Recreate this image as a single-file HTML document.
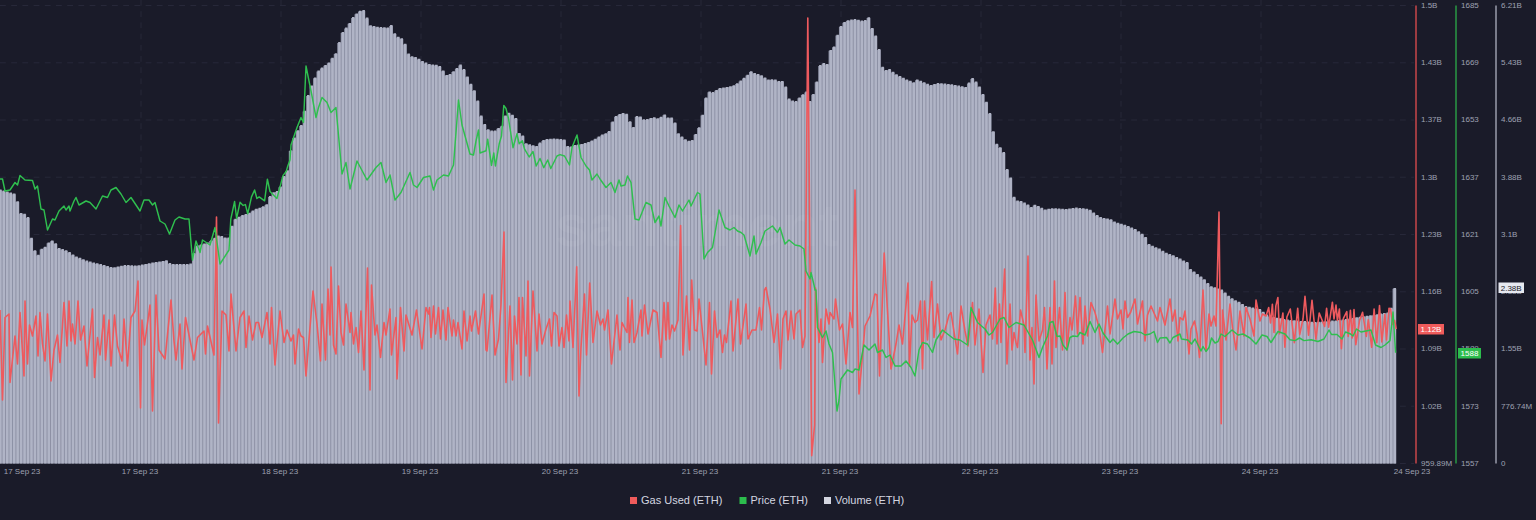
<!DOCTYPE html>
<html><head><meta charset="utf-8"><style>
html,body{margin:0;padding:0;background:#1a1b29;width:1536px;height:520px;overflow:hidden;font-family:"Liberation Sans",sans-serif;}
svg{display:block}
</style></head><body>
<svg width="1536" height="520" viewBox="0 0 1536 520" font-family="Liberation Sans, sans-serif"><rect x="0" y="0" width="1536" height="520" fill="#1a1b29"/>
<line x1="0" y1="5.5" x2="1414" y2="5.5" stroke="#2a2c3d" stroke-width="1" stroke-opacity="0.8" stroke-dasharray="5.8 5.4"/>
<line x1="0" y1="62.8" x2="1414" y2="62.8" stroke="#2a2c3d" stroke-width="1" stroke-opacity="0.8" stroke-dasharray="5.8 5.4"/>
<line x1="0" y1="120.0" x2="1414" y2="120.0" stroke="#2a2c3d" stroke-width="1" stroke-opacity="0.8" stroke-dasharray="5.8 5.4"/>
<line x1="0" y1="177.2" x2="1414" y2="177.2" stroke="#2a2c3d" stroke-width="1" stroke-opacity="0.8" stroke-dasharray="5.8 5.4"/>
<line x1="0" y1="234.5" x2="1414" y2="234.5" stroke="#2a2c3d" stroke-width="1" stroke-opacity="0.8" stroke-dasharray="5.8 5.4"/>
<line x1="0" y1="291.8" x2="1414" y2="291.8" stroke="#2a2c3d" stroke-width="1" stroke-opacity="0.8" stroke-dasharray="5.8 5.4"/>
<line x1="0" y1="349.0" x2="1414" y2="349.0" stroke="#2a2c3d" stroke-width="1" stroke-opacity="0.8" stroke-dasharray="5.8 5.4"/>
<line x1="0" y1="406.2" x2="1414" y2="406.2" stroke="#2a2c3d" stroke-width="1" stroke-opacity="0.8" stroke-dasharray="5.8 5.4"/>
<line x1="0" y1="463.5" x2="1414" y2="463.5" stroke="#2a2c3d" stroke-width="1" stroke-opacity="0.8" stroke-dasharray="5.8 5.4"/>
<line x1="141" y1="0" x2="141" y2="463.5" stroke="#2a2c3d" stroke-width="1" stroke-opacity="0.8" stroke-dasharray="5.8 5.4"/>
<line x1="281" y1="0" x2="281" y2="463.5" stroke="#2a2c3d" stroke-width="1" stroke-opacity="0.8" stroke-dasharray="5.8 5.4"/>
<line x1="421" y1="0" x2="421" y2="463.5" stroke="#2a2c3d" stroke-width="1" stroke-opacity="0.8" stroke-dasharray="5.8 5.4"/>
<line x1="561" y1="0" x2="561" y2="463.5" stroke="#2a2c3d" stroke-width="1" stroke-opacity="0.8" stroke-dasharray="5.8 5.4"/>
<line x1="701" y1="0" x2="701" y2="463.5" stroke="#2a2c3d" stroke-width="1" stroke-opacity="0.8" stroke-dasharray="5.8 5.4"/>
<line x1="841" y1="0" x2="841" y2="463.5" stroke="#2a2c3d" stroke-width="1" stroke-opacity="0.8" stroke-dasharray="5.8 5.4"/>
<line x1="981" y1="0" x2="981" y2="463.5" stroke="#2a2c3d" stroke-width="1" stroke-opacity="0.8" stroke-dasharray="5.8 5.4"/>
<line x1="1121" y1="0" x2="1121" y2="463.5" stroke="#2a2c3d" stroke-width="1" stroke-opacity="0.8" stroke-dasharray="5.8 5.4"/>
<line x1="1261" y1="0" x2="1261" y2="463.5" stroke="#2a2c3d" stroke-width="1" stroke-opacity="0.8" stroke-dasharray="5.8 5.4"/>
<path d="M-1.84 190.3H1.92V463.5H-1.84ZM1.62 191.3H5.38V463.5H1.62ZM5.08 192.3H8.84V463.5H5.08ZM8.54 193.2H12.30V463.5H8.54ZM12.00 194.2H15.76V463.5H12.00ZM15.46 202.1H19.22V463.5H15.46ZM18.92 213.7H22.68V463.5H18.92ZM22.38 214.6H26.14V463.5H22.38ZM25.84 217.9H29.60V463.5H25.84ZM29.30 238.5H33.06V463.5H29.30ZM32.76 251.0H36.52V463.5H32.76ZM36.22 255.6H39.98V463.5H36.22ZM39.68 249.6H43.44V463.5H39.68ZM43.14 247.5H46.90V463.5H43.14ZM46.60 243.3H50.36V463.5H46.60ZM50.06 241.2H53.82V463.5H50.06ZM53.52 244.1H57.28V463.5H53.52ZM56.98 248.7H60.74V463.5H56.98ZM60.44 249.9H64.20V463.5H60.44ZM63.90 251.1H67.66V463.5H63.90ZM67.36 252.9H71.12V463.5H67.36ZM70.82 255.2H74.58V463.5H70.82ZM74.28 257.2H78.04V463.5H74.28ZM77.74 258.6H81.50V463.5H77.74ZM81.20 260.0H84.96V463.5H81.20ZM84.66 261.4H88.42V463.5H84.66ZM88.12 262.4H91.88V463.5H88.12ZM91.58 263.2H95.34V463.5H91.58ZM95.04 264.0H98.80V463.5H95.04ZM98.50 264.9H102.26V463.5H98.50ZM101.96 265.8H105.72V463.5H101.96ZM105.42 266.8H109.18V463.5H105.42ZM108.88 267.8H112.64V463.5H108.88ZM112.34 268.0H116.10V463.5H112.34ZM115.80 267.3H119.56V463.5H115.80ZM119.26 266.6H123.02V463.5H119.26ZM122.72 265.9H126.48V463.5H122.72ZM126.18 265.9H129.94V463.5H126.18ZM129.64 266.1H133.40V463.5H129.64ZM133.10 266.2H136.86V463.5H133.10ZM136.56 266.1H140.32V463.5H136.56ZM140.02 265.4H143.78V463.5H140.02ZM143.48 264.8H147.24V463.5H143.48ZM146.94 264.1H150.70V463.5H146.94ZM150.40 263.4H154.16V463.5H150.40ZM153.86 262.8H157.62V463.5H153.86ZM157.32 262.2H161.08V463.5H157.32ZM160.78 261.7H164.54V463.5H160.78ZM164.24 261.1H168.00V463.5H164.24ZM167.70 263.9H171.46V463.5H167.70ZM171.16 264.8H174.92V463.5H171.16ZM174.62 264.8H178.38V463.5H174.62ZM178.08 264.8H181.84V463.5H178.08ZM181.54 264.8H185.30V463.5H181.54ZM185.00 264.8H188.76V463.5H185.00ZM188.46 264.4H192.22V463.5H188.46ZM191.92 253.8H195.68V463.5H191.92ZM195.38 246.2H199.14V463.5H195.38ZM198.84 245.2H202.60V463.5H198.84ZM202.30 244.3H206.06V463.5H202.30ZM205.76 243.3H209.52V463.5H205.76ZM209.22 241.0H212.98V463.5H209.22ZM212.68 238.6H216.44V463.5H212.68ZM216.14 236.2H219.90V463.5H216.14ZM219.60 236.7H223.36V463.5H219.60ZM223.06 238.3H226.82V463.5H223.06ZM226.52 238.3H230.28V463.5H226.52ZM229.98 226.5H233.74V463.5H229.98ZM233.44 219.6H237.20V463.5H233.44ZM236.90 217.6H240.66V463.5H236.90ZM240.36 215.9H244.12V463.5H240.36ZM243.82 214.7H247.58V463.5H243.82ZM247.28 213.6H251.04V463.5H247.28ZM250.74 211.4H254.50V463.5H250.74ZM254.20 209.5H257.96V463.5H254.20ZM257.66 208.6H261.42V463.5H257.66ZM261.12 207.1H264.88V463.5H261.12ZM264.58 205.1H268.34V463.5H264.58ZM268.04 196.9H271.80V463.5H268.04ZM271.50 193.1H275.26V463.5H271.50ZM274.96 191.9H278.72V463.5H274.96ZM278.42 187.2H282.18V463.5H278.42ZM281.88 176.8H285.64V463.5H281.88ZM285.34 171.1H289.10V463.5H285.34ZM288.80 151.0H292.56V463.5H288.80ZM292.26 138.3H296.02V463.5H292.26ZM295.72 131.1H299.48V463.5H295.72ZM299.18 125.9H302.94V463.5H299.18ZM302.64 111.6H306.40V463.5H302.64ZM306.10 95.9H309.86V463.5H306.10ZM309.56 86.3H313.32V463.5H309.56ZM313.02 78.3H316.78V463.5H313.02ZM316.48 71.4H320.24V463.5H316.48ZM319.94 68.4H323.70V463.5H319.94ZM323.40 65.8H327.16V463.5H323.40ZM326.86 63.2H330.62V463.5H326.86ZM330.32 58.6H334.08V463.5H330.32ZM333.78 54.0H337.54V463.5H333.78ZM337.24 42.9H341.00V463.5H337.24ZM340.70 32.9H344.46V463.5H340.70ZM344.16 28.4H347.92V463.5H344.16ZM347.62 23.8H351.38V463.5H347.62ZM351.08 17.9H354.84V463.5H351.08ZM354.54 14.2H358.30V463.5H354.54ZM358.00 11.6H361.76V463.5H358.00ZM361.46 10.9H365.22V463.5H361.46ZM364.92 18.4H368.68V463.5H364.92ZM368.38 26.1H372.14V463.5H368.38ZM371.84 26.8H375.60V463.5H371.84ZM375.30 27.5H379.06V463.5H375.30ZM378.76 27.9H382.52V463.5H378.76ZM382.22 28.1H385.98V463.5H382.22ZM385.68 28.2H389.44V463.5H385.68ZM389.14 25.9H392.90V463.5H389.14ZM392.60 34.1H396.36V463.5H392.60ZM396.06 37.6H399.82V463.5H396.06ZM399.52 39.1H403.28V463.5H399.52ZM402.98 44.5H406.74V463.5H402.98ZM406.44 54.3H410.20V463.5H406.44ZM409.90 57.0H413.66V463.5H409.90ZM413.36 57.8H417.12V463.5H413.36ZM416.82 59.6H420.58V463.5H416.82ZM420.28 61.7H424.04V463.5H420.28ZM423.74 63.4H427.50V463.5H423.74ZM427.20 64.8H430.96V463.5H427.20ZM430.66 65.2H434.42V463.5H430.66ZM434.12 65.5H437.88V463.5H434.12ZM437.58 66.8H441.34V463.5H437.58ZM441.04 71.3H444.80V463.5H441.04ZM444.50 75.8H448.26V463.5H444.50ZM447.96 74.7H451.72V463.5H447.96ZM451.42 72.1H455.18V463.5H451.42ZM454.88 68.7H458.64V463.5H454.88ZM458.34 65.4H462.10V463.5H458.34ZM461.80 69.9H465.56V463.5H461.80ZM465.26 77.2H469.02V463.5H465.26ZM468.72 84.6H472.48V463.5H468.72ZM472.18 91.0H475.94V463.5H472.18ZM475.64 101.3H479.40V463.5H475.64ZM479.10 116.4H482.86V463.5H479.10ZM482.56 124.7H486.32V463.5H482.56ZM486.02 130.0H489.78V463.5H486.02ZM489.48 131.4H493.24V463.5H489.48ZM492.94 131.2H496.70V463.5H492.94ZM496.40 128.8H500.16V463.5H496.40ZM499.86 126.5H503.62V463.5H499.86ZM503.32 116.3H507.08V463.5H503.32ZM506.78 113.5H510.54V463.5H506.78ZM510.24 115.5H514.00V463.5H510.24ZM513.70 118.8H517.46V463.5H513.70ZM517.16 133.7H520.92V463.5H517.16ZM520.62 136.3H524.38V463.5H520.62ZM524.08 144.1H527.84V463.5H524.08ZM527.54 145.0H531.30V463.5H527.54ZM531.00 146.1H534.76V463.5H531.00ZM534.46 146.7H538.22V463.5H534.46ZM537.92 143.4H541.68V463.5H537.92ZM541.38 140.9H545.14V463.5H541.38ZM544.84 139.7H548.60V463.5H544.84ZM548.30 139.5H552.06V463.5H548.30ZM551.76 139.3H555.52V463.5H551.76ZM555.22 139.6H558.98V463.5H555.22ZM558.68 139.8H562.44V463.5H558.68ZM562.14 140.2H565.90V463.5H562.14ZM565.60 146.8H569.36V463.5H565.60ZM569.06 147.2H572.82V463.5H569.06ZM572.52 145.9H576.28V463.5H572.52ZM575.98 145.3H579.74V463.5H575.98ZM579.44 144.8H583.20V463.5H579.44ZM582.90 143.9H586.66V463.5H582.90ZM586.36 142.8H590.12V463.5H586.36ZM589.82 141.2H593.58V463.5H589.82ZM593.28 139.5H597.04V463.5H593.28ZM596.74 137.4H600.50V463.5H596.74ZM600.20 135.4H603.96V463.5H600.20ZM603.66 134.0H607.42V463.5H603.66ZM607.12 131.7H610.88V463.5H607.12ZM610.58 122.3H614.34V463.5H610.58ZM614.04 116.8H617.80V463.5H614.04ZM617.50 114.9H621.26V463.5H617.50ZM620.96 113.8H624.72V463.5H620.96ZM624.42 114.5H628.18V463.5H624.42ZM627.88 122.0H631.64V463.5H627.88ZM631.34 127.8H635.10V463.5H631.34ZM634.80 116.9H638.56V463.5H634.80ZM638.26 117.3H642.02V463.5H638.26ZM641.72 120.0H645.48V463.5H641.72ZM645.18 119.9H648.94V463.5H645.18ZM648.64 118.7H652.40V463.5H648.64ZM652.10 118.1H655.86V463.5H652.10ZM655.56 119.1H659.32V463.5H655.56ZM659.02 117.5H662.78V463.5H659.02ZM662.48 115.3H666.24V463.5H662.48ZM665.94 118.3H669.70V463.5H665.94ZM669.40 118.3H673.16V463.5H669.40ZM672.86 123.2H676.62V463.5H672.86ZM676.32 134.0H680.08V463.5H676.32ZM679.78 137.2H683.54V463.5H679.78ZM683.24 140.1H687.00V463.5H683.24ZM686.70 141.5H690.46V463.5H686.70ZM690.16 140.8H693.92V463.5H690.16ZM693.62 134.7H697.38V463.5H693.62ZM697.08 128.0H700.84V463.5H697.08ZM700.54 115.5H704.30V463.5H700.54ZM704.00 98.3H707.76V463.5H704.00ZM707.46 92.2H711.22V463.5H707.46ZM710.92 92.9H714.68V463.5H710.92ZM714.38 90.8H718.14V463.5H714.38ZM717.84 88.8H721.60V463.5H717.84ZM721.30 88.2H725.06V463.5H721.30ZM724.76 87.7H728.52V463.5H724.76ZM728.22 87.1H731.98V463.5H728.22ZM731.68 86.0H735.44V463.5H731.68ZM735.14 84.0H738.90V463.5H735.14ZM738.60 81.4H742.36V463.5H738.60ZM742.06 78.5H745.82V463.5H742.06ZM745.52 75.5H749.28V463.5H745.52ZM748.98 72.1H752.74V463.5H748.98ZM752.44 73.7H756.20V463.5H752.44ZM755.90 74.8H759.66V463.5H755.90ZM759.36 76.1H763.12V463.5H759.36ZM762.82 78.3H766.58V463.5H762.82ZM766.28 80.3H770.04V463.5H766.28ZM769.74 80.0H773.50V463.5H769.74ZM773.20 80.4H776.96V463.5H773.20ZM776.66 81.8H780.42V463.5H776.66ZM780.12 81.8H783.88V463.5H780.12ZM783.58 87.2H787.34V463.5H783.58ZM787.04 99.4H790.80V463.5H787.04ZM790.50 101.3H794.26V463.5H790.50ZM793.96 101.9H797.72V463.5H793.96ZM797.42 98.2H801.18V463.5H797.42ZM800.88 95.1H804.64V463.5H800.88ZM804.34 92.4H808.10V463.5H804.34ZM807.80 101.7H811.56V463.5H807.80ZM811.26 94.8H815.02V463.5H811.26ZM814.72 82.3H818.48V463.5H814.72ZM818.18 65.9H821.94V463.5H818.18ZM821.64 63.7H825.40V463.5H821.64ZM825.10 64.7H828.86V463.5H825.10ZM828.56 50.7H832.32V463.5H828.56ZM832.02 47.2H835.78V463.5H832.02ZM835.48 35.5H839.24V463.5H835.48ZM838.94 26.8H842.70V463.5H838.94ZM842.40 22.7H846.16V463.5H842.40ZM845.86 21.0H849.62V463.5H845.86ZM849.32 20.4H853.08V463.5H849.32ZM852.78 19.9H856.54V463.5H852.78ZM856.24 20.5H860.00V463.5H856.24ZM859.70 21.4H863.46V463.5H859.70ZM863.16 20.9H866.92V463.5H863.16ZM866.62 18.1H870.38V463.5H866.62ZM870.08 28.7H873.84V463.5H870.08ZM873.54 36.3H877.30V463.5H873.54ZM877.00 49.9H880.76V463.5H877.00ZM880.46 67.5H884.22V463.5H880.46ZM883.92 70.8H887.68V463.5H883.92ZM887.38 69.9H891.14V463.5H887.38ZM890.84 72.5H894.60V463.5H890.84ZM894.30 75.1H898.06V463.5H894.30ZM897.76 76.8H901.52V463.5H897.76ZM901.22 78.5H904.98V463.5H901.22ZM904.68 80.2H908.44V463.5H904.68ZM908.14 81.6H911.90V463.5H908.14ZM911.60 83.0H915.36V463.5H911.60ZM915.06 80.2H918.82V463.5H915.06ZM918.52 81.5H922.28V463.5H918.52ZM921.98 83.1H925.74V463.5H921.98ZM925.44 84.5H929.20V463.5H925.44ZM928.90 85.8H932.66V463.5H928.90ZM932.36 84.8H936.12V463.5H932.36ZM935.82 83.9H939.58V463.5H935.82ZM939.28 84.1H943.04V463.5H939.28ZM942.74 84.4H946.50V463.5H942.74ZM946.20 84.8H949.96V463.5H946.20ZM949.66 85.1H953.42V463.5H949.66ZM953.12 85.7H956.88V463.5H953.12ZM956.58 86.4H960.34V463.5H956.58ZM960.04 87.1H963.80V463.5H960.04ZM963.50 87.7H967.26V463.5H963.50ZM966.96 83.4H970.72V463.5H966.96ZM970.42 78.9H974.18V463.5H970.42ZM973.88 82.4H977.64V463.5H973.88ZM977.34 87.2H981.10V463.5H977.34ZM980.80 94.8H984.56V463.5H980.80ZM984.26 102.5H988.02V463.5H984.26ZM987.72 113.9H991.48V463.5H987.72ZM991.18 132.0H994.94V463.5H991.18ZM994.64 144.5H998.40V463.5H994.64ZM998.10 148.1H1001.86V463.5H998.10ZM1001.56 152.9H1005.32V463.5H1001.56ZM1005.02 169.9H1008.78V463.5H1005.02ZM1008.48 178.3H1012.24V463.5H1008.48ZM1011.94 197.6H1015.70V463.5H1011.94ZM1015.40 201.2H1019.16V463.5H1015.40ZM1018.86 201.7H1022.62V463.5H1018.86ZM1022.32 203.4H1026.08V463.5H1022.32ZM1025.78 205.3H1029.54V463.5H1025.78ZM1029.24 207.7H1033.00V463.5H1029.24ZM1032.70 205.6H1036.46V463.5H1032.70ZM1036.16 206.7H1039.92V463.5H1036.16ZM1039.62 208.5H1043.38V463.5H1039.62ZM1043.08 210.2H1046.84V463.5H1043.08ZM1046.54 209.6H1050.30V463.5H1046.54ZM1050.00 209.0H1053.76V463.5H1050.00ZM1053.46 209.0H1057.22V463.5H1053.46ZM1056.92 209.3H1060.68V463.5H1056.92ZM1060.38 209.6H1064.14V463.5H1060.38ZM1063.84 209.7H1067.60V463.5H1063.84ZM1067.30 209.2H1071.06V463.5H1067.30ZM1070.76 208.7H1074.52V463.5H1070.76ZM1074.22 208.4H1077.98V463.5H1074.22ZM1077.68 208.8H1081.44V463.5H1077.68ZM1081.14 209.1H1084.90V463.5H1081.14ZM1084.60 209.5H1088.36V463.5H1084.60ZM1088.06 210.5H1091.82V463.5H1088.06ZM1091.52 213.3H1095.28V463.5H1091.52ZM1094.98 215.8H1098.74V463.5H1094.98ZM1098.44 217.8H1102.20V463.5H1098.44ZM1101.90 218.7H1105.66V463.5H1101.90ZM1105.36 219.3H1109.12V463.5H1105.36ZM1108.82 220.1H1112.58V463.5H1108.82ZM1112.28 222.2H1116.04V463.5H1112.28ZM1115.74 223.5H1119.50V463.5H1115.74ZM1119.20 224.6H1122.96V463.5H1119.20ZM1122.66 225.6H1126.42V463.5H1122.66ZM1126.12 226.9H1129.88V463.5H1126.12ZM1129.58 228.3H1133.34V463.5H1129.58ZM1133.04 229.7H1136.80V463.5H1133.04ZM1136.50 232.1H1140.26V463.5H1136.50ZM1139.96 234.5H1143.72V463.5H1139.96ZM1143.42 237.8H1147.18V463.5H1143.42ZM1146.88 244.7H1150.64V463.5H1146.88ZM1150.34 246.6H1154.10V463.5H1150.34ZM1153.80 248.0H1157.56V463.5H1153.80ZM1157.26 249.4H1161.02V463.5H1157.26ZM1160.72 251.5H1164.48V463.5H1160.72ZM1164.18 253.6H1167.94V463.5H1164.18ZM1167.64 254.8H1171.40V463.5H1167.64ZM1171.10 256.0H1174.86V463.5H1171.10ZM1174.56 257.7H1178.32V463.5H1174.56ZM1178.02 259.4H1181.78V463.5H1178.02ZM1181.48 261.2H1185.24V463.5H1181.48ZM1184.94 262.9H1188.70V463.5H1184.94ZM1188.40 269.9H1192.16V463.5H1188.40ZM1191.86 272.3H1195.62V463.5H1191.86ZM1195.32 274.7H1199.08V463.5H1195.32ZM1198.78 277.2H1202.54V463.5H1198.78ZM1202.24 280.0H1206.00V463.5H1202.24ZM1205.70 283.7H1209.46V463.5H1205.70ZM1209.16 287.1H1212.92V463.5H1209.16ZM1212.62 288.1H1216.38V463.5H1212.62ZM1216.08 289.2H1219.84V463.5H1216.08ZM1219.54 290.4H1223.30V463.5H1219.54ZM1223.00 293.3H1226.76V463.5H1223.00ZM1226.46 296.5H1230.22V463.5H1226.46ZM1229.92 299.1H1233.68V463.5H1229.92ZM1233.38 301.0H1237.14V463.5H1233.38ZM1236.84 302.6H1240.60V463.5H1236.84ZM1240.30 304.7H1244.06V463.5H1240.30ZM1243.76 306.9H1247.52V463.5H1243.76ZM1247.22 307.6H1250.98V463.5H1247.22ZM1250.68 308.3H1254.44V463.5H1250.68ZM1254.14 309.0H1257.90V463.5H1254.14ZM1257.60 309.7H1261.36V463.5H1257.60ZM1261.06 312.6H1264.82V463.5H1261.06ZM1264.52 315.2H1268.28V463.5H1264.52ZM1267.98 316.4H1271.74V463.5H1267.98ZM1271.44 317.7H1275.20V463.5H1271.44ZM1274.90 318.6H1278.66V463.5H1274.90ZM1278.36 319.1H1282.12V463.5H1278.36ZM1281.82 319.7H1285.58V463.5H1281.82ZM1285.28 320.3H1289.04V463.5H1285.28ZM1288.74 320.8H1292.50V463.5H1288.74ZM1292.20 321.1H1295.96V463.5H1292.20ZM1295.66 321.4H1299.42V463.5H1295.66ZM1299.12 321.7H1302.88V463.5H1299.12ZM1302.58 321.9H1306.34V463.5H1302.58ZM1306.04 322.2H1309.80V463.5H1306.04ZM1309.50 322.5H1313.26V463.5H1309.50ZM1312.96 322.8H1316.72V463.5H1312.96ZM1316.42 322.5H1320.18V463.5H1316.42ZM1319.88 322.3H1323.64V463.5H1319.88ZM1323.34 322.0H1327.10V463.5H1323.34ZM1326.80 321.7H1330.56V463.5H1326.80ZM1330.26 321.4H1334.02V463.5H1330.26ZM1333.72 321.2H1337.48V463.5H1333.72ZM1337.18 320.9H1340.94V463.5H1337.18ZM1340.64 320.4H1344.40V463.5H1340.64ZM1344.10 319.8H1347.86V463.5H1344.10ZM1347.56 319.3H1351.32V463.5H1347.56ZM1351.02 318.7H1354.78V463.5H1351.02ZM1354.48 318.1H1358.24V463.5H1354.48ZM1357.94 317.6H1361.70V463.5H1357.94ZM1361.40 317.1H1365.16V463.5H1361.40ZM1364.86 316.6H1368.62V463.5H1364.86ZM1368.32 316.0H1372.08V463.5H1368.32ZM1371.78 315.5H1375.54V463.5H1371.78ZM1375.24 315.0H1379.00V463.5H1375.24ZM1378.70 314.4H1382.46V463.5H1378.70ZM1382.16 313.9H1385.92V463.5H1382.16ZM1385.62 313.3H1389.38V463.5H1385.62ZM1389.08 308.6H1392.84V463.5H1389.08ZM1392.54 288.8H1396.30V463.5H1392.54Z" fill="#8a8ea2"/>
<path d="M-0.94 189.5H1.62V463.5H-0.94ZM2.52 190.5H5.08V463.5H2.52ZM5.98 191.5H8.54V463.5H5.98ZM9.44 192.4H12.00V463.5H9.44ZM12.90 193.4H15.46V463.5H12.90ZM16.36 201.3H18.92V463.5H16.36ZM19.82 212.9H22.38V463.5H19.82ZM23.28 213.8H25.84V463.5H23.28ZM26.74 217.1H29.30V463.5H26.74ZM30.20 237.7H32.76V463.5H30.20ZM33.66 250.2H36.22V463.5H33.66ZM37.12 254.8H39.68V463.5H37.12ZM40.58 248.8H43.14V463.5H40.58ZM44.04 246.7H46.60V463.5H44.04ZM47.50 242.5H50.06V463.5H47.50ZM50.96 240.4H53.52V463.5H50.96ZM54.42 243.3H56.98V463.5H54.42ZM57.88 247.9H60.44V463.5H57.88ZM61.34 249.1H63.90V463.5H61.34ZM64.80 250.3H67.36V463.5H64.80ZM68.26 252.1H70.82V463.5H68.26ZM71.72 254.4H74.28V463.5H71.72ZM75.18 256.4H77.74V463.5H75.18ZM78.64 257.8H81.20V463.5H78.64ZM82.10 259.2H84.66V463.5H82.10ZM85.56 260.6H88.12V463.5H85.56ZM89.02 261.6H91.58V463.5H89.02ZM92.48 262.4H95.04V463.5H92.48ZM95.94 263.2H98.50V463.5H95.94ZM99.40 264.1H101.96V463.5H99.40ZM102.86 265.0H105.42V463.5H102.86ZM106.32 266.0H108.88V463.5H106.32ZM109.78 267.0H112.34V463.5H109.78ZM113.24 267.2H115.80V463.5H113.24ZM116.70 266.5H119.26V463.5H116.70ZM120.16 265.8H122.72V463.5H120.16ZM123.62 265.1H126.18V463.5H123.62ZM127.08 265.1H129.64V463.5H127.08ZM130.54 265.3H133.10V463.5H130.54ZM134.00 265.4H136.56V463.5H134.00ZM137.46 265.3H140.02V463.5H137.46ZM140.92 264.6H143.48V463.5H140.92ZM144.38 264.0H146.94V463.5H144.38ZM147.84 263.3H150.40V463.5H147.84ZM151.30 262.6H153.86V463.5H151.30ZM154.76 262.0H157.32V463.5H154.76ZM158.22 261.4H160.78V463.5H158.22ZM161.68 260.9H164.24V463.5H161.68ZM165.14 260.3H167.70V463.5H165.14ZM168.60 263.1H171.16V463.5H168.60ZM172.06 264.0H174.62V463.5H172.06ZM175.52 264.0H178.08V463.5H175.52ZM178.98 264.0H181.54V463.5H178.98ZM182.44 264.0H185.00V463.5H182.44ZM185.90 264.0H188.46V463.5H185.90ZM189.36 263.6H191.92V463.5H189.36ZM192.82 253.0H195.38V463.5H192.82ZM196.28 245.4H198.84V463.5H196.28ZM199.74 244.4H202.30V463.5H199.74ZM203.20 243.5H205.76V463.5H203.20ZM206.66 242.5H209.22V463.5H206.66ZM210.12 240.2H212.68V463.5H210.12ZM213.58 237.8H216.14V463.5H213.58ZM217.04 235.4H219.60V463.5H217.04ZM220.50 235.9H223.06V463.5H220.50ZM223.96 237.5H226.52V463.5H223.96ZM227.42 237.5H229.98V463.5H227.42ZM230.88 225.7H233.44V463.5H230.88ZM234.34 218.8H236.90V463.5H234.34ZM237.80 216.8H240.36V463.5H237.80ZM241.26 215.1H243.82V463.5H241.26ZM244.72 213.9H247.28V463.5H244.72ZM248.18 212.8H250.74V463.5H248.18ZM251.64 210.6H254.20V463.5H251.64ZM255.10 208.7H257.66V463.5H255.10ZM258.56 207.8H261.12V463.5H258.56ZM262.02 206.3H264.58V463.5H262.02ZM265.48 204.3H268.04V463.5H265.48ZM268.94 196.1H271.50V463.5H268.94ZM272.40 192.3H274.96V463.5H272.40ZM275.86 191.1H278.42V463.5H275.86ZM279.32 186.4H281.88V463.5H279.32ZM282.78 176.0H285.34V463.5H282.78ZM286.24 170.3H288.80V463.5H286.24ZM289.70 150.2H292.26V463.5H289.70ZM293.16 137.5H295.72V463.5H293.16ZM296.62 130.3H299.18V463.5H296.62ZM300.08 125.1H302.64V463.5H300.08ZM303.54 110.8H306.10V463.5H303.54ZM307.00 95.1H309.56V463.5H307.00ZM310.46 85.5H313.02V463.5H310.46ZM313.92 77.5H316.48V463.5H313.92ZM317.38 70.6H319.94V463.5H317.38ZM320.84 67.6H323.40V463.5H320.84ZM324.30 65.0H326.86V463.5H324.30ZM327.76 62.4H330.32V463.5H327.76ZM331.22 57.8H333.78V463.5H331.22ZM334.68 53.2H337.24V463.5H334.68ZM338.14 42.1H340.70V463.5H338.14ZM341.60 32.1H344.16V463.5H341.60ZM345.06 27.6H347.62V463.5H345.06ZM348.52 23.0H351.08V463.5H348.52ZM351.98 17.1H354.54V463.5H351.98ZM355.44 13.4H358.00V463.5H355.44ZM358.90 10.8H361.46V463.5H358.90ZM362.36 10.1H364.92V463.5H362.36ZM365.82 17.6H368.38V463.5H365.82ZM369.28 25.3H371.84V463.5H369.28ZM372.74 26.0H375.30V463.5H372.74ZM376.20 26.7H378.76V463.5H376.20ZM379.66 27.1H382.22V463.5H379.66ZM383.12 27.3H385.68V463.5H383.12ZM386.58 27.4H389.14V463.5H386.58ZM390.04 25.1H392.60V463.5H390.04ZM393.50 33.3H396.06V463.5H393.50ZM396.96 36.8H399.52V463.5H396.96ZM400.42 38.3H402.98V463.5H400.42ZM403.88 43.7H406.44V463.5H403.88ZM407.34 53.5H409.90V463.5H407.34ZM410.80 56.2H413.36V463.5H410.80ZM414.26 57.0H416.82V463.5H414.26ZM417.72 58.8H420.28V463.5H417.72ZM421.18 60.9H423.74V463.5H421.18ZM424.64 62.6H427.20V463.5H424.64ZM428.10 64.0H430.66V463.5H428.10ZM431.56 64.4H434.12V463.5H431.56ZM435.02 64.7H437.58V463.5H435.02ZM438.48 66.0H441.04V463.5H438.48ZM441.94 70.5H444.50V463.5H441.94ZM445.40 75.0H447.96V463.5H445.40ZM448.86 73.9H451.42V463.5H448.86ZM452.32 71.3H454.88V463.5H452.32ZM455.78 67.9H458.34V463.5H455.78ZM459.24 64.6H461.80V463.5H459.24ZM462.70 69.1H465.26V463.5H462.70ZM466.16 76.4H468.72V463.5H466.16ZM469.62 83.8H472.18V463.5H469.62ZM473.08 90.2H475.64V463.5H473.08ZM476.54 100.5H479.10V463.5H476.54ZM480.00 115.6H482.56V463.5H480.00ZM483.46 123.9H486.02V463.5H483.46ZM486.92 129.2H489.48V463.5H486.92ZM490.38 130.6H492.94V463.5H490.38ZM493.84 130.4H496.40V463.5H493.84ZM497.30 128.0H499.86V463.5H497.30ZM500.76 125.7H503.32V463.5H500.76ZM504.22 115.5H506.78V463.5H504.22ZM507.68 112.7H510.24V463.5H507.68ZM511.14 114.7H513.70V463.5H511.14ZM514.60 118.0H517.16V463.5H514.60ZM518.06 132.9H520.62V463.5H518.06ZM521.52 135.5H524.08V463.5H521.52ZM524.98 143.3H527.54V463.5H524.98ZM528.44 144.2H531.00V463.5H528.44ZM531.90 145.3H534.46V463.5H531.90ZM535.36 145.9H537.92V463.5H535.36ZM538.82 142.6H541.38V463.5H538.82ZM542.28 140.1H544.84V463.5H542.28ZM545.74 138.9H548.30V463.5H545.74ZM549.20 138.7H551.76V463.5H549.20ZM552.66 138.5H555.22V463.5H552.66ZM556.12 138.8H558.68V463.5H556.12ZM559.58 139.0H562.14V463.5H559.58ZM563.04 139.4H565.60V463.5H563.04ZM566.50 146.0H569.06V463.5H566.50ZM569.96 146.4H572.52V463.5H569.96ZM573.42 145.1H575.98V463.5H573.42ZM576.88 144.5H579.44V463.5H576.88ZM580.34 144.0H582.90V463.5H580.34ZM583.80 143.1H586.36V463.5H583.80ZM587.26 142.0H589.82V463.5H587.26ZM590.72 140.4H593.28V463.5H590.72ZM594.18 138.7H596.74V463.5H594.18ZM597.64 136.6H600.20V463.5H597.64ZM601.10 134.6H603.66V463.5H601.10ZM604.56 133.2H607.12V463.5H604.56ZM608.02 130.9H610.58V463.5H608.02ZM611.48 121.5H614.04V463.5H611.48ZM614.94 116.0H617.50V463.5H614.94ZM618.40 114.1H620.96V463.5H618.40ZM621.86 113.0H624.42V463.5H621.86ZM625.32 113.7H627.88V463.5H625.32ZM628.78 121.2H631.34V463.5H628.78ZM632.24 127.0H634.80V463.5H632.24ZM635.70 116.1H638.26V463.5H635.70ZM639.16 116.5H641.72V463.5H639.16ZM642.62 119.2H645.18V463.5H642.62ZM646.08 119.1H648.64V463.5H646.08ZM649.54 117.9H652.10V463.5H649.54ZM653.00 117.3H655.56V463.5H653.00ZM656.46 118.3H659.02V463.5H656.46ZM659.92 116.7H662.48V463.5H659.92ZM663.38 114.5H665.94V463.5H663.38ZM666.84 117.5H669.40V463.5H666.84ZM670.30 117.5H672.86V463.5H670.30ZM673.76 122.4H676.32V463.5H673.76ZM677.22 133.2H679.78V463.5H677.22ZM680.68 136.4H683.24V463.5H680.68ZM684.14 139.3H686.70V463.5H684.14ZM687.60 140.7H690.16V463.5H687.60ZM691.06 140.0H693.62V463.5H691.06ZM694.52 133.9H697.08V463.5H694.52ZM697.98 127.2H700.54V463.5H697.98ZM701.44 114.7H704.00V463.5H701.44ZM704.90 97.5H707.46V463.5H704.90ZM708.36 91.4H710.92V463.5H708.36ZM711.82 92.1H714.38V463.5H711.82ZM715.28 90.0H717.84V463.5H715.28ZM718.74 88.0H721.30V463.5H718.74ZM722.20 87.4H724.76V463.5H722.20ZM725.66 86.9H728.22V463.5H725.66ZM729.12 86.3H731.68V463.5H729.12ZM732.58 85.2H735.14V463.5H732.58ZM736.04 83.2H738.60V463.5H736.04ZM739.50 80.6H742.06V463.5H739.50ZM742.96 77.7H745.52V463.5H742.96ZM746.42 74.8H748.98V463.5H746.42ZM749.88 71.3H752.44V463.5H749.88ZM753.34 72.9H755.90V463.5H753.34ZM756.80 74.0H759.36V463.5H756.80ZM760.26 75.3H762.82V463.5H760.26ZM763.72 77.5H766.28V463.5H763.72ZM767.18 79.5H769.74V463.5H767.18ZM770.64 79.2H773.20V463.5H770.64ZM774.10 79.6H776.66V463.5H774.10ZM777.56 81.0H780.12V463.5H777.56ZM781.02 81.0H783.58V463.5H781.02ZM784.48 86.4H787.04V463.5H784.48ZM787.94 98.6H790.50V463.5H787.94ZM791.40 100.5H793.96V463.5H791.40ZM794.86 101.1H797.42V463.5H794.86ZM798.32 97.4H800.88V463.5H798.32ZM801.78 94.3H804.34V463.5H801.78ZM805.24 91.6H807.80V463.5H805.24ZM808.70 100.9H811.26V463.5H808.70ZM812.16 94.0H814.72V463.5H812.16ZM815.62 81.5H818.18V463.5H815.62ZM819.08 65.1H821.64V463.5H819.08ZM822.54 62.9H825.10V463.5H822.54ZM826.00 63.9H828.56V463.5H826.00ZM829.46 49.9H832.02V463.5H829.46ZM832.92 46.4H835.48V463.5H832.92ZM836.38 34.7H838.94V463.5H836.38ZM839.84 26.0H842.40V463.5H839.84ZM843.30 21.9H845.86V463.5H843.30ZM846.76 20.2H849.32V463.5H846.76ZM850.22 19.6H852.78V463.5H850.22ZM853.68 19.1H856.24V463.5H853.68ZM857.14 19.7H859.70V463.5H857.14ZM860.60 20.6H863.16V463.5H860.60ZM864.06 20.1H866.62V463.5H864.06ZM867.52 17.3H870.08V463.5H867.52ZM870.98 27.9H873.54V463.5H870.98ZM874.44 35.5H877.00V463.5H874.44ZM877.90 49.1H880.46V463.5H877.90ZM881.36 66.7H883.92V463.5H881.36ZM884.82 70.0H887.38V463.5H884.82ZM888.28 69.1H890.84V463.5H888.28ZM891.74 71.7H894.30V463.5H891.74ZM895.20 74.3H897.76V463.5H895.20ZM898.66 76.0H901.22V463.5H898.66ZM902.12 77.7H904.68V463.5H902.12ZM905.58 79.4H908.14V463.5H905.58ZM909.04 80.8H911.60V463.5H909.04ZM912.50 82.2H915.06V463.5H912.50ZM915.96 79.4H918.52V463.5H915.96ZM919.42 80.7H921.98V463.5H919.42ZM922.88 82.3H925.44V463.5H922.88ZM926.34 83.7H928.90V463.5H926.34ZM929.80 85.0H932.36V463.5H929.80ZM933.26 84.0H935.82V463.5H933.26ZM936.72 83.1H939.28V463.5H936.72ZM940.18 83.3H942.74V463.5H940.18ZM943.64 83.6H946.20V463.5H943.64ZM947.10 84.0H949.66V463.5H947.10ZM950.56 84.3H953.12V463.5H950.56ZM954.02 84.9H956.58V463.5H954.02ZM957.48 85.6H960.04V463.5H957.48ZM960.94 86.3H963.50V463.5H960.94ZM964.40 86.9H966.96V463.5H964.40ZM967.86 82.6H970.42V463.5H967.86ZM971.32 78.1H973.88V463.5H971.32ZM974.78 81.6H977.34V463.5H974.78ZM978.24 86.4H980.80V463.5H978.24ZM981.70 94.0H984.26V463.5H981.70ZM985.16 101.7H987.72V463.5H985.16ZM988.62 113.1H991.18V463.5H988.62ZM992.08 131.2H994.64V463.5H992.08ZM995.54 143.7H998.10V463.5H995.54ZM999.00 147.3H1001.56V463.5H999.00ZM1002.46 152.1H1005.02V463.5H1002.46ZM1005.92 169.1H1008.48V463.5H1005.92ZM1009.38 177.5H1011.94V463.5H1009.38ZM1012.84 196.8H1015.40V463.5H1012.84ZM1016.30 200.4H1018.86V463.5H1016.30ZM1019.76 200.9H1022.32V463.5H1019.76ZM1023.22 202.6H1025.78V463.5H1023.22ZM1026.68 204.5H1029.24V463.5H1026.68ZM1030.14 206.9H1032.70V463.5H1030.14ZM1033.60 204.8H1036.16V463.5H1033.60ZM1037.06 205.9H1039.62V463.5H1037.06ZM1040.52 207.7H1043.08V463.5H1040.52ZM1043.98 209.4H1046.54V463.5H1043.98ZM1047.44 208.8H1050.00V463.5H1047.44ZM1050.90 208.2H1053.46V463.5H1050.90ZM1054.36 208.2H1056.92V463.5H1054.36ZM1057.82 208.5H1060.38V463.5H1057.82ZM1061.28 208.8H1063.84V463.5H1061.28ZM1064.74 208.9H1067.30V463.5H1064.74ZM1068.20 208.4H1070.76V463.5H1068.20ZM1071.66 207.9H1074.22V463.5H1071.66ZM1075.12 207.6H1077.68V463.5H1075.12ZM1078.58 208.0H1081.14V463.5H1078.58ZM1082.04 208.3H1084.60V463.5H1082.04ZM1085.50 208.7H1088.06V463.5H1085.50ZM1088.96 209.7H1091.52V463.5H1088.96ZM1092.42 212.5H1094.98V463.5H1092.42ZM1095.88 215.0H1098.44V463.5H1095.88ZM1099.34 217.0H1101.90V463.5H1099.34ZM1102.80 217.9H1105.36V463.5H1102.80ZM1106.26 218.5H1108.82V463.5H1106.26ZM1109.72 219.3H1112.28V463.5H1109.72ZM1113.18 221.4H1115.74V463.5H1113.18ZM1116.64 222.7H1119.20V463.5H1116.64ZM1120.10 223.8H1122.66V463.5H1120.10ZM1123.56 224.8H1126.12V463.5H1123.56ZM1127.02 226.1H1129.58V463.5H1127.02ZM1130.48 227.5H1133.04V463.5H1130.48ZM1133.94 228.9H1136.50V463.5H1133.94ZM1137.40 231.3H1139.96V463.5H1137.40ZM1140.86 233.7H1143.42V463.5H1140.86ZM1144.32 237.0H1146.88V463.5H1144.32ZM1147.78 243.9H1150.34V463.5H1147.78ZM1151.24 245.8H1153.80V463.5H1151.24ZM1154.70 247.2H1157.26V463.5H1154.70ZM1158.16 248.6H1160.72V463.5H1158.16ZM1161.62 250.7H1164.18V463.5H1161.62ZM1165.08 252.8H1167.64V463.5H1165.08ZM1168.54 254.0H1171.10V463.5H1168.54ZM1172.00 255.2H1174.56V463.5H1172.00ZM1175.46 256.9H1178.02V463.5H1175.46ZM1178.92 258.6H1181.48V463.5H1178.92ZM1182.38 260.4H1184.94V463.5H1182.38ZM1185.84 262.1H1188.40V463.5H1185.84ZM1189.30 269.1H1191.86V463.5H1189.30ZM1192.76 271.5H1195.32V463.5H1192.76ZM1196.22 273.9H1198.78V463.5H1196.22ZM1199.68 276.4H1202.24V463.5H1199.68ZM1203.14 279.2H1205.70V463.5H1203.14ZM1206.60 282.9H1209.16V463.5H1206.60ZM1210.06 286.3H1212.62V463.5H1210.06ZM1213.52 287.3H1216.08V463.5H1213.52ZM1216.98 288.4H1219.54V463.5H1216.98ZM1220.44 289.6H1223.00V463.5H1220.44ZM1223.90 292.5H1226.46V463.5H1223.90ZM1227.36 295.7H1229.92V463.5H1227.36ZM1230.82 298.3H1233.38V463.5H1230.82ZM1234.28 300.2H1236.84V463.5H1234.28ZM1237.74 301.8H1240.30V463.5H1237.74ZM1241.20 303.9H1243.76V463.5H1241.20ZM1244.66 306.1H1247.22V463.5H1244.66ZM1248.12 306.8H1250.68V463.5H1248.12ZM1251.58 307.5H1254.14V463.5H1251.58ZM1255.04 308.2H1257.60V463.5H1255.04ZM1258.50 308.9H1261.06V463.5H1258.50ZM1261.96 311.8H1264.52V463.5H1261.96ZM1265.42 314.4H1267.98V463.5H1265.42ZM1268.88 315.6H1271.44V463.5H1268.88ZM1272.34 316.9H1274.90V463.5H1272.34ZM1275.80 317.8H1278.36V463.5H1275.80ZM1279.26 318.3H1281.82V463.5H1279.26ZM1282.72 318.9H1285.28V463.5H1282.72ZM1286.18 319.5H1288.74V463.5H1286.18ZM1289.64 320.0H1292.20V463.5H1289.64ZM1293.10 320.3H1295.66V463.5H1293.10ZM1296.56 320.6H1299.12V463.5H1296.56ZM1300.02 320.9H1302.58V463.5H1300.02ZM1303.48 321.1H1306.04V463.5H1303.48ZM1306.94 321.4H1309.50V463.5H1306.94ZM1310.40 321.7H1312.96V463.5H1310.40ZM1313.86 322.0H1316.42V463.5H1313.86ZM1317.32 321.7H1319.88V463.5H1317.32ZM1320.78 321.5H1323.34V463.5H1320.78ZM1324.24 321.2H1326.80V463.5H1324.24ZM1327.70 320.9H1330.26V463.5H1327.70ZM1331.16 320.6H1333.72V463.5H1331.16ZM1334.62 320.4H1337.18V463.5H1334.62ZM1338.08 320.1H1340.64V463.5H1338.08ZM1341.54 319.6H1344.10V463.5H1341.54ZM1345.00 319.0H1347.56V463.5H1345.00ZM1348.46 318.5H1351.02V463.5H1348.46ZM1351.92 317.9H1354.48V463.5H1351.92ZM1355.38 317.3H1357.94V463.5H1355.38ZM1358.84 316.8H1361.40V463.5H1358.84ZM1362.30 316.3H1364.86V463.5H1362.30ZM1365.76 315.8H1368.32V463.5H1365.76ZM1369.22 315.2H1371.78V463.5H1369.22ZM1372.68 314.7H1375.24V463.5H1372.68ZM1376.14 314.2H1378.70V463.5H1376.14ZM1379.60 313.6H1382.16V463.5H1379.60ZM1383.06 313.1H1385.62V463.5H1383.06ZM1386.52 312.5H1389.08V463.5H1386.52ZM1389.98 307.8H1392.54V463.5H1389.98ZM1393.44 288.0H1396.00V463.5H1393.44Z" fill="#b0b4c6"/>
<text x="555" y="246" fill="#ffffff" fill-opacity="0.045" font-size="60" font-weight="bold">santiment</text>
<path d="M0 310 L2.5 400 L5 317.5 L9 314 L10 382.5 L15 336 L17.5 364 L20 312.5 L24 376 L25 301 L27.5 364 L29.5 325 L32.5 336 L36 316 L38 356 L40 312.5 L42.5 344 L45 361 L47.5 314 L51 381 L54 350 L57.5 335 L60 362.5 L64 302.5 L67 346 L69 301 L71 341 L72.5 324 L75 344 L78 301 L80.5 340 L84 326 L87 366 L92.5 309 L94.5 377.5 L97.5 337.5 L100 355 L104 315 L105.5 360 L109 320 L111 366 L114.5 315 L117.5 346 L122 361 L124 319 L127.5 366 L131 317.5 L135 311 L138 281 L140.5 408 L142 320 L144.5 345 L150 305 L152.5 411 L156 295 L159 350 L165 359 L171 300 L174 341 L176 360 L180 324 L182 369 L185.5 317.5 L191 345 L194 360 L197.5 337.5 L204 331 L205.5 354 L207.5 326 L214 355 L216.5 217 L218.5 423 L222 311 L226 315 L229 351 L231 294 L236 351 L240 317.5 L244 311 L246 347.5 L249 316 L252.5 340 L256 322.5 L258.5 322.5 L262 337.5 L267 312.5 L270 344 L271.5 307.5 L275 365 L280 311 L284 342.5 L287 330 L291 341 L293.5 335 L295 364 L298.5 329 L301 336 L303.5 337.5 L306 376 L313 291 L317 324 L320.5 361 L322 304 L325.5 360 L328 289 L330 335 L331 267 L333.5 345 L336 354 L338.5 286 L341 332.5 L343.5 345 L346 304 L350 332.5 L351 312.5 L353.5 344 L356 327.5 L358.5 352.5 L361 311 L364 370 L367.5 268 L370 390 L371.5 285 L375 335 L377 325 L380.5 357.5 L384 322.5 L386 335 L390 309 L391.5 355 L396 317.5 L397 379 L400.5 307.5 L404 351 L406 315 L412 335 L416.5 310 L422 349 L426 307.5 L428.5 314 L429.5 307.5 L431 337.5 L433.5 306 L435.5 334 L438.5 307.5 L440.5 339 L443 310 L446 340 L448 307.5 L452 336 L453.5 320 L456 336 L458 322.5 L462 349 L464 311 L467 341 L470 316 L471.5 331 L475.5 311 L478.5 334 L484 294 L486 350 L487 351 L492 295 L495 355 L498.5 339 L501 305 L504 232 L506 382.5 L510 306 L512.5 380 L514.5 316 L517 344 L519 297.5 L521 375 L522.5 297.5 L526 356 L528 281 L529.5 376 L533 291 L537 351 L539 314 L542 344 L546 329 L549.5 319 L551.5 346 L554 312.5 L557 316 L559 346 L562 327.5 L564 347.5 L566.5 315 L569 341 L570 301 L573 347.5 L576.7 266.7 L579 396 L581 347.5 L584.5 294 L586.5 355 L589.7 283 L593 342.5 L597 311 L600.5 325 L603 319 L604.5 330 L608 310 L611.5 364 L617 315 L620 350 L622 322.5 L627 332.5 L628 297.5 L629.5 342.5 L632 300 L634 342.5 L637 332.5 L641 310 L642 336 L644.5 305 L648 334 L653 310 L657 312.5 L661 357.5 L664 302.5 L666 340 L668 302.5 L669.5 339 L672 325 L674.5 331 L678 320 L680.6 225.6 L683 355 L686.5 296 L689.5 350 L691.7 280 L694.5 330 L697 331 L699 299 L706 365 L709.5 302.5 L711.5 374 L714.5 311 L717 337.5 L720 330 L722.5 352.5 L724.5 335 L726.5 342.5 L731 301 L733 351 L738 299 L740.5 344 L746 304 L748 339 L752 330 L756 330 L759.5 307.5 L761.5 330 L764.5 290 L766 287.5 L770 309 L774 342.5 L777.5 314 L780.5 369 L783 319 L786 311 L788 340 L791 311 L794 339 L796 314 L800 310 L802.5 347.5 L805 336 L807.8 18 L811.7 455.6 L814.6 425 L815.5 288 L819 342.5 L821 319 L822.5 362.5 L826 309 L829 324 L830 312.5 L834 319 L835.5 299 L839.5 330 L842.5 324 L846 364 L850 312.5 L852.5 327.5 L855 190 L859 394 L861 372.5 L865 326 L870 316 L875 294 L877 295 L879.5 376 L884.2 253 L887.5 311 L891 369 L896 344 L899 325 L902.5 344 L908 283 L909.5 366 L912 315 L915 322.5 L917.5 320 L920.5 301 L922.5 369 L924.5 301 L927.5 340 L931.6 281.5 L934 337.5 L937.5 304 L941 340 L945 330 L949 315 L951 312.5 L957.5 354 L961 306 L965 331 L968 346 L972.5 302.5 L975 345 L979 309 L983 372.5 L986 325 L990 315 L992.5 339 L995.3 288 L997 344 L999.5 304 L1001 342.5 L1004.6 269 L1007 364 L1010 304 L1012 350 L1014 332.5 L1016 342.5 L1017.5 347.5 L1020.5 310 L1024 325 L1025 352.5 L1028 256 L1030 360 L1032 327.5 L1034 384 L1036 295 L1039 341 L1042.5 330 L1044.5 307.5 L1047 369 L1050 307.5 L1052 364 L1054.5 281 L1056 347.5 L1059.5 307.5 L1062.5 350 L1065 292.5 L1067 350 L1070 317.5 L1072 330 L1075.5 296 L1077.5 334 L1080 297.5 L1083 344 L1085 306 L1087.5 336 L1091 302.5 L1095 312.5 L1099 327.5 L1102.5 352.5 L1107.5 306 L1110 334 L1115 299 L1117.5 319 L1121 310 L1123 329 L1125 301 L1127.5 317.5 L1130.5 312.5 L1135 299 L1137.5 324 L1142.5 301 L1145 341 L1147.5 315 L1151 306 L1157.5 321 L1160 307.5 L1165 325 L1170 299 L1172.5 321 L1175 310 L1178 341 L1180 317.5 L1183 320 L1185 311 L1189 354 L1191 329 L1194.5 321 L1197 334 L1199.5 357.5 L1203 290 L1206 351 L1209 314 L1211 326 L1214 316 L1216 326 L1219 212 L1221.2 423.8 L1222.5 310 L1226 340 L1230 304 L1232.5 327.5 L1236 350 L1240 311 L1244 336 L1246 307.5 L1250 319 L1254 336 L1256 300 L1260 321 L1262.5 314 L1266 316 L1268.7 307.6 L1270.5 323 L1272.4 304.2 L1274 332.5 L1275.9 305.6 L1277.9 297.5 L1279.5 333.8 L1282.9 313 L1284.9 347.3 L1286.9 317 L1290.3 309 L1294.3 342.6 L1297.7 308.3 L1299.7 334.5 L1303 319 L1305 296.2 L1308.5 335.2 L1312 300.2 L1315.9 339.2 L1319.2 313 L1324.6 326.4 L1326.6 308.3 L1328.6 327.1 L1332.4 302.2 L1334 319 L1336 305 L1337.4 320.4 L1339.4 309 L1341.4 348.6 L1343.4 318.4 L1346.8 311.6 L1348.2 336.5 L1350.4 310.3 L1352.2 337.9 L1354 309.6 L1355.8 344.6 L1359.6 320.4 L1362.6 312.3 L1366.3 336.5 L1368.3 319.7 L1371.7 347.3 L1374.1 309 L1376.8 342.6 L1379.5 305.6 L1381.8 341.9 L1384.9 314.3 L1386.5 339.9 L1389 308.3 L1390.6 309 L1392.6 324.4 L1394.6 320.4 L1396.2 329.1" fill="none" stroke="#ee5a5e" stroke-width="1.6" stroke-linejoin="round"/>
<path d="M0 179 L2.5 179 L5 191 L10 190 L15 182.5 L17.5 185 L20 175.5 L25 180 L32.5 180.5 L35 189 L37.5 186 L41 209 L44 210 L47.5 230 L52.5 219 L55 220 L59 211 L64 206 L66 210 L69 206 L70 211 L74 201 L76 197.5 L79 205 L86 201 L90 202.5 L96 209 L102.5 196 L107.5 197.5 L111 190 L116 187.5 L121 194 L126 202.5 L131 197.5 L140 211 L144 200 L149 200 L152.5 205 L155 202.5 L160 221 L165 224 L169.5 234 L175 220 L179 217 L185 219 L189 219 L192.5 260 L196 241 L200 252.5 L202.5 240 L210 245 L215 227.5 L220 264 L229 250 L230.8 219.2 L234.6 201.5 L236.6 218.5 L240 202.3 L243.1 205.4 L245.4 204.6 L247.7 213.8 L251.5 196.9 L254.6 190 L256.9 198.5 L259.2 196.9 L264.6 200.8 L267.4 179.2 L270 191.5 L276.9 198.5 L280 186.9 L283.1 175.4 L286.2 171.5 L287.7 166.2 L290 160 L291 145 L297 127.5 L301 117.5 L303.5 122.5 L306 66 L309.8 85 L312 96 L316 117.5 L318.5 107.5 L322 97.5 L327 102.5 L331 112.5 L336 107.5 L342 174 L346 162.5 L350 189 L357 161 L367 180 L376 167.5 L381 162.5 L386 182.5 L390 175 L395 200 L401 192.5 L410 172.5 L413.5 185 L417 187.5 L423.5 177.5 L430 176 L433.5 190 L437 180 L443.5 175 L448.5 176 L453.5 165 L458.5 100 L462 125 L470 154 L473.5 155 L476 141 L478.5 130 L480 153 L486 150.8 L487.7 139.2 L491.5 165.4 L493.8 153 L495.4 166 L499.2 143.8 L501.5 136 L503.8 105.4 L506 108.5 L508.5 118.5 L513 147.7 L517 133.8 L519.2 143.8 L522.3 140.8 L524.6 149.2 L529.2 157 L533 151.5 L536.2 166 L540 158.5 L543.8 167.7 L547.7 160 L550.8 168.5 L557 156 L560 154.6 L564.5 156 L569.5 165 L572 147.5 L577 135 L581 157.5 L586 166 L589.5 170 L592 180 L597 174 L600 179 L606 187.5 L611 182.5 L615 192.5 L619 180 L621 186 L625 185 L627.5 176 L631 182.5 L635 219 L639 220 L646 202.5 L651 205 L655 222.5 L659 216 L661 226 L665 197.5 L669 206 L675 217.5 L679 205 L682.5 211 L689 200 L691 206 L697.5 192.5 L700 194 L704 259 L707.5 252.5 L712.5 247.5 L719 210 L725 227.5 L730 230 L734 227.5 L737.5 231 L741 232.5 L744 235 L750 256 L754 236 L756 254 L761 242.5 L765 231 L772.5 226 L777.5 232.5 L780 227.5 L785 244 L789 240 L795 245 L800 246 L804 249 L806 271 L810 279 L811 272.5 L811 272.5 L814 285 L815 290 L816 290 L817.5 327.5 L822.5 337.5 L826 331 L829 344 L832.5 352.5 L837 411 L839 400 L841 379 L847.5 370 L852.5 372.5 L855 369 L859 370 L864 345 L869 350 L875 344 L877.5 352.5 L882.5 350 L886 357.5 L890 355 L895 366 L901 366 L906 361 L911 367.5 L915 376 L919 350 L922.5 342.5 L927.5 344 L932.5 352.5 L936 340 L942.5 330 L947.5 334 L954 339 L960 340 L967.5 345 L971 307.5 L977.5 322.5 L985 329 L989 335 L992.5 332.5 L1000 319 L1004 317.5 L1009 327.5 L1016 322.5 L1024 325 L1032.5 340 L1039 357.5 L1042.5 347.5 L1047.5 336 L1050 322.5 L1053 321.5 L1057 336.5 L1060 336 L1063 345 L1067 350 L1070 337.5 L1073 336 L1077.5 336.5 L1080 332.5 L1085 335 L1090 321.5 L1095 332.5 L1099 324 L1103 333 L1110 342.5 L1113 339 L1117.5 344 L1123 338 L1128 334 L1134 331.5 L1141 332.5 L1145 335 L1150 334 L1154 331.5 L1157.5 342.5 L1160 338 L1166.5 337.5 L1170 343 L1173 337.5 L1180 334 L1181.5 339 L1188 340 L1191.5 344 L1195 339 L1201 351 L1203 346.5 L1206 351.5 L1209 347.5 L1211.5 338 L1215 343 L1218 341.5 L1221 334 L1225 336.5 L1232 330 L1238 335 L1243 334 L1250 338 L1256 344 L1262 335 L1267 336.5 L1271 342.5 L1278 331.5 L1285 334 L1290 339.7 L1295 340.6 L1299.5 338 L1304 340.6 L1311 339.7 L1318 341.5 L1324 339 L1329 330 L1331.5 334.5 L1337 334.5 L1342 339 L1345.5 332 L1350 333.7 L1353 336 L1356.5 329 L1361 332 L1366 331 L1371 330 L1375.5 345 L1381 347.5 L1385 345 L1390 340.6 L1393 312 L1395.6 352.7" fill="none" stroke="#2fbf4f" stroke-width="1.45" stroke-linejoin="round"/>
<line x1="1416" y1="5.5" x2="1416" y2="463.5" stroke="#c8474a" stroke-width="1.5"/>
<line x1="1456" y1="5.5" x2="1456" y2="463.5" stroke="#2a9a44" stroke-width="1.5"/>
<line x1="1496" y1="5.5" x2="1496" y2="463.5" stroke="#9a9cab" stroke-width="1.5"/>
<text x="1421" y="7.8" fill="#9ea1b1" font-size="8">1.5B</text>
<text x="1461" y="7.8" fill="#9ea1b1" font-size="8">1685</text>
<text x="1501" y="7.8" fill="#9ea1b1" font-size="8">6.21B</text>
<text x="1421" y="65.0" fill="#9ea1b1" font-size="8">1.43B</text>
<text x="1461" y="65.0" fill="#9ea1b1" font-size="8">1669</text>
<text x="1501" y="65.0" fill="#9ea1b1" font-size="8">5.43B</text>
<text x="1421" y="122.3" fill="#9ea1b1" font-size="8">1.37B</text>
<text x="1461" y="122.3" fill="#9ea1b1" font-size="8">1653</text>
<text x="1501" y="122.3" fill="#9ea1b1" font-size="8">4.66B</text>
<text x="1421" y="179.6" fill="#9ea1b1" font-size="8">1.3B</text>
<text x="1461" y="179.6" fill="#9ea1b1" font-size="8">1637</text>
<text x="1501" y="179.6" fill="#9ea1b1" font-size="8">3.88B</text>
<text x="1421" y="236.8" fill="#9ea1b1" font-size="8">1.23B</text>
<text x="1461" y="236.8" fill="#9ea1b1" font-size="8">1621</text>
<text x="1501" y="236.8" fill="#9ea1b1" font-size="8">3.1B</text>
<text x="1421" y="294.1" fill="#9ea1b1" font-size="8">1.16B</text>
<text x="1461" y="294.1" fill="#9ea1b1" font-size="8">1605</text>
<text x="1501" y="294.1" fill="#9ea1b1" font-size="8">2.33B</text>
<text x="1421" y="351.3" fill="#9ea1b1" font-size="8">1.09B</text>
<text x="1461" y="351.3" fill="#9ea1b1" font-size="8">1589</text>
<text x="1501" y="351.3" fill="#9ea1b1" font-size="8">1.55B</text>
<text x="1421" y="408.6" fill="#9ea1b1" font-size="8">1.02B</text>
<text x="1461" y="408.6" fill="#9ea1b1" font-size="8">1573</text>
<text x="1501" y="408.6" fill="#9ea1b1" font-size="8">776.74M</text>
<text x="1421" y="465.8" fill="#9ea1b1" font-size="8">959.89M</text>
<text x="1461" y="465.8" fill="#9ea1b1" font-size="8">1557</text>
<text x="1501" y="465.8" fill="#9ea1b1" font-size="8">0</text>
<rect x="1418" y="324" width="26" height="10.5" fill="#ef5b5b"/><text x="1431" y="332.3" fill="#ffffff" font-size="8" text-anchor="middle">1.12B</text>
<rect x="1458" y="348" width="23" height="10.5" fill="#2cbd4d"/><text x="1469.5" y="356.3" fill="#ffffff" font-size="8" text-anchor="middle">1588</text>
<rect x="1498.5" y="282.5" width="25.5" height="10.5" fill="#e6e8ef"/><text x="1511.2" y="290.8" fill="#1a1b29" font-size="8" text-anchor="middle">2.38B</text>
<text x="22" y="473.8" fill="#9ea1b1" font-size="8" text-anchor="middle">17 Sep 23</text>
<text x="140" y="473.8" fill="#9ea1b1" font-size="8" text-anchor="middle">17 Sep 23</text>
<text x="280" y="473.8" fill="#9ea1b1" font-size="8" text-anchor="middle">18 Sep 23</text>
<text x="420" y="473.8" fill="#9ea1b1" font-size="8" text-anchor="middle">19 Sep 23</text>
<text x="560" y="473.8" fill="#9ea1b1" font-size="8" text-anchor="middle">20 Sep 23</text>
<text x="700" y="473.8" fill="#9ea1b1" font-size="8" text-anchor="middle">21 Sep 23</text>
<text x="840" y="473.8" fill="#9ea1b1" font-size="8" text-anchor="middle">21 Sep 23</text>
<text x="980" y="473.8" fill="#9ea1b1" font-size="8" text-anchor="middle">22 Sep 23</text>
<text x="1120" y="473.8" fill="#9ea1b1" font-size="8" text-anchor="middle">23 Sep 23</text>
<text x="1260" y="473.8" fill="#9ea1b1" font-size="8" text-anchor="middle">24 Sep 23</text>
<text x="1412" y="473.8" fill="#9ea1b1" font-size="8" text-anchor="middle">24 Sep 23</text>
<rect x="630" y="497" width="7" height="7" fill="#ef5b5b"/>
<text x="641" y="503.8" fill="#d4d6e0" font-size="11">Gas Used (ETH)</text>
<rect x="739.5" y="497" width="7" height="7" fill="#2cbd4d"/>
<text x="750.5" y="503.8" fill="#d4d6e0" font-size="11">Price (ETH)</text>
<rect x="824" y="497" width="7" height="7" fill="#d4d6e0"/>
<text x="835" y="503.8" fill="#d4d6e0" font-size="11">Volume (ETH)</text></svg>
</body></html>
